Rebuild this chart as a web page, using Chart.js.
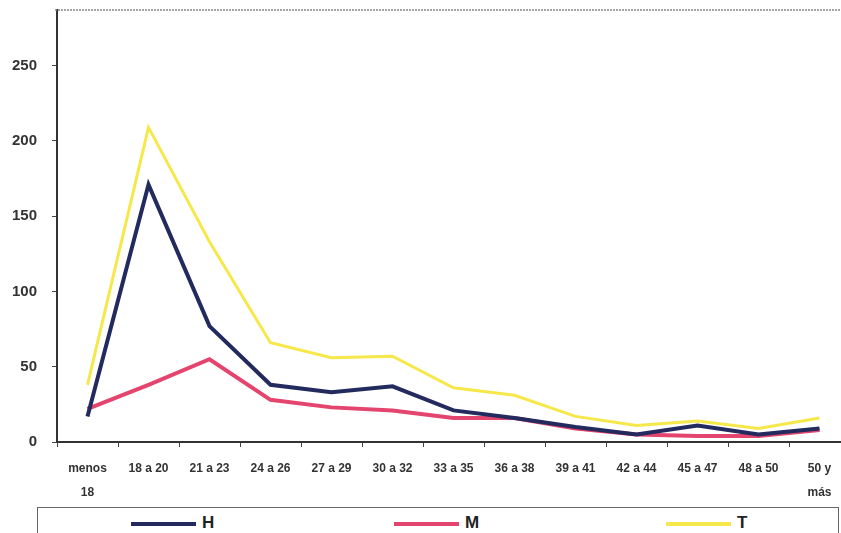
<!DOCTYPE html>
<html lang="es">
<head>
    <meta charset="utf-8">
    <title>Distribución por edad</title>
    <script src="https://cdn.jsdelivr.net/npm/chart.js"></script>
    <style>
        body { margin: 0; background: #fff; overflow: hidden; font-family: "Liberation Sans", Arial, sans-serif; }
        #wrap { position: relative; width: 841px; height: 533px; overflow: hidden; }
        #chart { position: absolute; left: 0; top: 0; }
        #legend { position: absolute; left: 37px; top: 507px; width: 800px; height: 40px; border: 1px solid #666; border-bottom: none; }
        .item { position: absolute; top: 5px; font-weight: bold; font-size: 17px; color: #222; line-height: 20px; }
        .item span { display: inline-block; width: 65px; height: 4px; vertical-align: middle; margin-right: 6px; }
    </style>
</head>
<body>
    <div id="wrap">
        <canvas id="chart" width="851" height="506"></canvas>
        <div id="legend">
            <div class="item" style="left:93px"><span style="background:#232a5e"></span>H</div>
            <div class="item" style="left:356px"><span style="background:#e4456e"></span>M</div>
            <div class="item" style="left:628px"><span style="background:#f6e84a"></span>T</div>
        </div>
    </div>

    <script>
        const ageGroups = [['menos', '18'], '18 a 20', '21 a 23', '24 a 26', '27 a 29', '30 a 32', '33 a 35',
            '36 a 38', '39 a 41', '42 a 44', '45 a 47', '48 a 50', ['50 y', 'más']];
        const hValues = [17, 171, 77, 38, 33, 37, 21, 16, 10, 5, 11, 5, 9];
        const mValues = [22, 38, 55, 28, 23, 21, 16, 16, 9, 5, 4, 4, 8];
        const tValues = [38, 209, 133, 66, 56, 57, 36, 31, 17, 11, 14, 9, 16];
        const yTicks = [0, 50, 100, 150, 200, 250];

        // dotted frame line along the top of the plot
        const topBorder = {
            id: 'topBorder',
            afterDraw(chart) {
                const ctx = chart.ctx;
                const area = chart.chartArea;
                ctx.save();
                ctx.strokeStyle = '#888';
                ctx.lineWidth = 1.5;
                ctx.setLineDash([2, 1]);
                ctx.beginPath();
                ctx.moveTo(area.left - 2, area.top);
                ctx.lineTo(chart.width, area.top);
                ctx.stroke();
                ctx.restore();
            }
        };

        const tickFont = { family: '"Liberation Sans", Arial, sans-serif', weight: 'bold', size: 12 };

        new Chart(document.getElementById('chart'), {
            type: 'line',
            data: {
                labels: ageGroups,
                datasets: [
                    { label: 'H', data: hValues, borderColor: '#232a5e', borderWidth: 4 },
                    { label: 'M', data: mValues, borderColor: '#e4456e', borderWidth: 4 },
                    { label: 'T', data: tValues, borderColor: '#f6e84a', borderWidth: 3 }
                ]
            },
            options: {
                responsive: false,
                animation: false,
                layout: { padding: { top: 10, right: 1, left: 0, bottom: 0 } },
                elements: { point: { radius: 0 }, line: { tension: 0 } },
                plugins: { legend: { display: false }, tooltip: { enabled: false } },
                scales: {
                    x: {
                        offset: true,
                        grid: { offset: true, drawOnChartArea: false, tickLength: 5, color: '#444' },
                        border: { color: '#333', width: 2 },
                        ticks: { color: '#333', font: { ...tickFont, lineHeight: 2 }, padding: 10, maxRotation: 0, autoSkip: false },
                        afterFit: scale => { scale.height = 64; }
                    },
                    y: {
                        min: 0,
                        max: 287,
                        afterBuildTicks: scale => { scale.ticks = yTicks.map(v => ({ value: v })); },
                        grid: { drawOnChartArea: false, tickLength: 5, color: '#444' },
                        border: { color: '#333', width: 2 },
                        ticks: { color: '#333', font: { ...tickFont, size: 15 }, padding: 15 },
                        afterFit: scale => { scale.width = 57; scale.paddingTop = 0; scale.paddingBottom = 0; }
                    }
                }
            },
            plugins: [topBorder]
        });
    </script>
</body>
</html>
